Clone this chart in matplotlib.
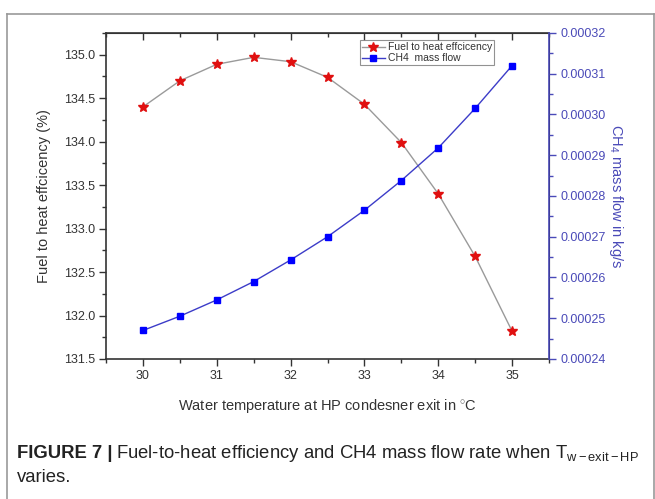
import numpy as np
import matplotlib.pyplot as plt
from matplotlib.ticker import MultipleLocator, FormatStrFormatter

plt.rcParams['font.family'] = ['Liberation Sans', 'DejaVu Sans']
plt.rcParams['mathtext.fontset'] = 'custom'
plt.rcParams['mathtext.rm'] = 'Liberation Sans'
plt.rcParams['mathtext.it'] = 'Liberation Sans'

# data
temp = [30, 30.5, 31, 31.5, 32, 32.5, 33, 33.5, 34, 34.5, 35]
efficiency = [134.40, 134.70, 134.89, 134.97, 134.92, 134.74, 134.43, 133.99, 133.40, 132.68, 131.82]
ch4_flow = [0.000247, 0.0002505, 0.0002545, 0.000259, 0.0002643, 0.000270,
            0.0002765, 0.0002838, 0.0002918, 0.0003015, 0.000312]

blue_ax = '#4a4ab8'
dark = '#333333'

fig = plt.figure(figsize=(6.55, 4.99), dpi=100)

# outer frame of the figure panel
fig.add_artist(plt.Line2D([7/655, 7/655], [0, 1 - 14/499], color='#999999', lw=1.2))
fig.add_artist(plt.Line2D([7/655, 654/655], [1 - 14/499, 1 - 14/499], color='#999999', lw=1.2))
fig.add_artist(plt.Line2D([654/655, 654/655], [0, 1 - 14/499], color='#999999', lw=1.2))

ax1 = fig.add_axes([106/655, 1 - 359/499, 443/655, 326/499])
ax2 = ax1.twinx()

l1, = ax1.plot(temp, efficiency, '-', color='#9a9a9a', lw=1,
               marker='*', ms=7, mfc='#e01010', mec='#e01010',
               label='Fuel to heat effcicency')
l2, = ax2.plot(temp, ch4_flow, '-', color='#3c3cc8', lw=1,
               marker='s', ms=5, mfc='#0000ff', mec='#0000ff',
               label='CH4  mass flow')

ax1.set_xlim(29.5, 35.5)
ax1.set_ylim(131.5, 135.25)
ax2.set_ylim(0.00024, 0.00032)

ax1.xaxis.set_major_locator(MultipleLocator(1))
ax1.xaxis.set_minor_locator(MultipleLocator(0.5))
ax1.yaxis.set_major_locator(MultipleLocator(0.5))
ax1.yaxis.set_minor_locator(MultipleLocator(0.25))
ax1.yaxis.set_major_formatter(FormatStrFormatter('%.1f'))
ax2.yaxis.set_major_locator(MultipleLocator(0.00001))
ax2.yaxis.set_minor_locator(MultipleLocator(0.000005))
ax2.yaxis.set_major_formatter(FormatStrFormatter('%.5f'))

ax1.tick_params(axis='both', which='major', direction='out', length=5, width=1,
                color=dark, labelcolor=dark, labelsize=9, pad=3)
ax1.tick_params(axis='both', which='minor', direction='out', length=3, width=1, color=dark)
ax1.tick_params(axis='y', right=False, which='both')

# top axis: ticks point inwards
top = ax1.secondary_xaxis('top')
top.xaxis.set_major_locator(MultipleLocator(1))
top.xaxis.set_minor_locator(MultipleLocator(0.5))
top.tick_params(which='major', direction='in', length=5, width=1, color=dark, labeltop=False)
top.tick_params(which='minor', direction='in', length=3, width=1, color=dark)
top.spines['top'].set_color(dark)

ax2.tick_params(axis='y', which='major', direction='out', length=5, width=1,
                color=blue_ax, labelcolor=blue_ax, labelsize=9, pad=3)
ax2.tick_params(axis='y', which='minor', direction='out', length=3, width=1, color=blue_ax)
ax2.spines['right'].set_color(blue_ax)
ax2.spines['right'].set_linewidth(1.2)
for s in ['left', 'bottom', 'top']:
    ax1.spines[s].set_color(dark)
    ax1.spines[s].set_linewidth(1.2)
ax2.spines['left'].set_visible(False)
ax2.spines['top'].set_visible(False)
ax2.spines['bottom'].set_visible(False)

ax1.set_xlabel('Water temperature at HP condesner exit in $^{\\circ}$C', fontsize=10.5, color=dark, labelpad=11)
ax1.set_ylabel('Fuel to heat effcicency (%)', fontsize=10.5, color=dark, labelpad=9)
ax2.set_ylabel('CH$_4$ mass flow in kg/s', fontsize=10.5, color=blue_ax,
               rotation=-90, labelpad=14)

leg = ax2.legend([l1, l2], ['Fuel to heat effcicency', 'CH4  mass flow'],
                 loc='upper left', bbox_to_anchor=(0.573, 0.978), fontsize=7.5,
                 frameon=True, fancybox=False, edgecolor='#777777',
                 handlelength=2.2, handletextpad=0.3, borderpad=0.2,
                 labelspacing=0.1, borderaxespad=0)
leg.get_frame().set_linewidth(0.8)
for t in leg.get_texts():
    t.set_color(dark)

# caption
renderer = fig.canvas.get_renderer()
cap1 = fig.text(17/655, 1 - 453/499, 'FIGURE 7 |', fontsize=13.3, fontweight='bold',
                color='#222222', va='center')
bb = cap1.get_window_extent(renderer=renderer)
fig.text((bb.x1 + 4) / 655, 1 - 453/499,
         'Fuel-to-heat efficiency and CH4 mass flow rate when T$_{\\mathrm{w-exit-HP}}$',
         fontsize=13.3, color='#222222', va='center')
fig.text(17/655, 1 - 478/499, 'varies.', fontsize=13.3, color='#222222', va='center')

fig.savefig('out.png', dpi=100)
